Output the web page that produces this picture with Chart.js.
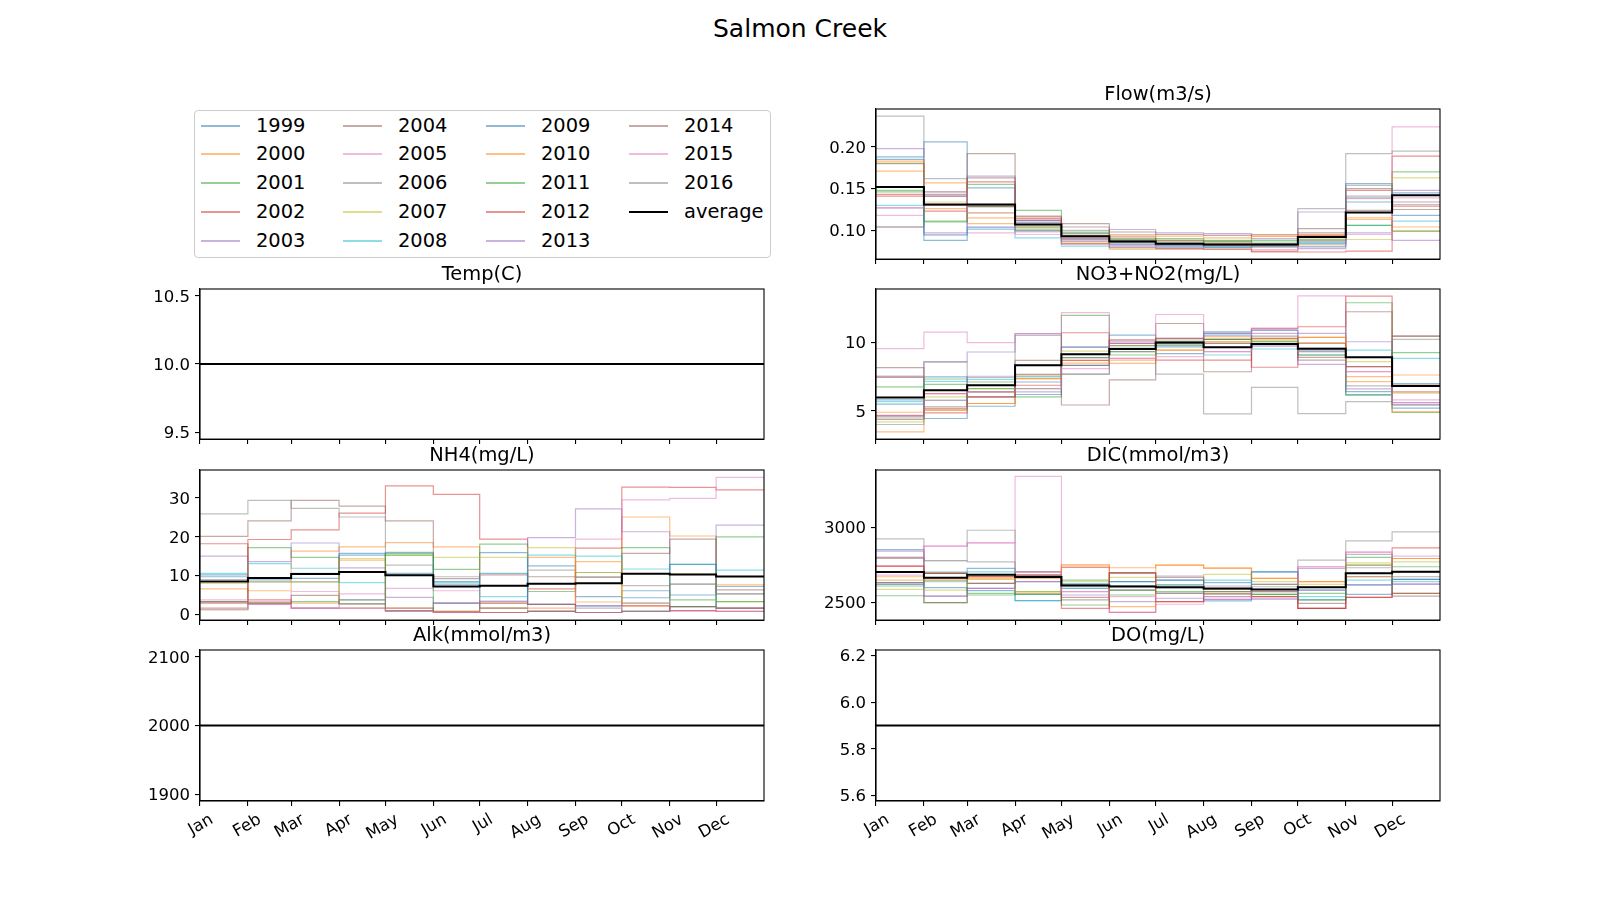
<!DOCTYPE html>
<html><head><meta charset="utf-8">
<script src="https://cdn.jsdelivr.net/npm/chart.js@4.4.1/dist/chart.umd.min.js"></script>
<style>
html,body{margin:0;padding:0;background:#fff;}
#wrap{position:relative;width:1600px;height:900px;overflow:hidden;font-family:"DejaVu Sans",sans-serif;color:#000;}
canvas{position:absolute;}
#suptitle{position:absolute;left:0;width:1600px;text-align:center;top:16px;font-size:25px;line-height:25px;white-space:nowrap;}
#legend{position:absolute;left:194px;top:110px;width:577px;height:148px;border:1px solid #cccccc;border-radius:4px;box-sizing:border-box;background:#fff;}
.lh{position:absolute;}
.lt{position:absolute;font-size:19.44px;line-height:24px;height:24px;white-space:nowrap;}
</style></head>
<body><div id="wrap"><div id="suptitle">Salmon Creek</div><div id="legend"></div></div>
<script>
// ---------------- DATA ----------------
const years = [1999,2000,2001,2002,2003,2004,2005,2006,2007,2008,2009,2010,2011,2012,2013,2014,2015,2016];
const monthLabels = ['Jan','Feb','Mar','Apr','May','Jun','Jul','Aug','Sep','Oct','Nov','Dec'];
const monthStartDays = [0,31,59,90,120,151,181,212,243,273,304,334];
const yearEndDay = 365;

// Flow(m3/s), one row per year, Jan..Dec
const flow = [
 [0.188,0.206,0.151,0.110,0.093,0.085,0.082,0.080,0.082,0.085,0.134,0.145],
 [0.171,0.126,0.108,0.104,0.094,0.091,0.088,0.086,0.093,0.095,0.115,0.099],
 [0.148,0.111,0.155,0.124,0.098,0.089,0.086,0.088,0.086,0.087,0.139,0.170],
 [0.143,0.123,0.158,0.116,0.090,0.087,0.083,0.082,0.075,0.094,0.148,0.189],
 [0.198,0.097,0.165,0.112,0.097,0.101,0.097,0.096,0.090,0.122,0.141,0.148],
 [0.104,0.143,0.192,0.117,0.108,0.093,0.088,0.086,0.084,0.102,0.124,0.125],
 [0.118,0.094,0.097,0.098,0.087,0.082,0.080,0.079,0.080,0.081,0.138,0.224],
 [0.237,0.162,0.129,0.105,0.100,0.090,0.086,0.084,0.083,0.126,0.192,0.195],
 [0.181,0.134,0.121,0.101,0.085,0.077,0.077,0.078,0.081,0.083,0.089,0.163],
 [0.130,0.095,0.101,0.091,0.081,0.080,0.079,0.080,0.082,0.084,0.106,0.111],
 [0.185,0.088,0.104,0.100,0.089,0.083,0.081,0.080,0.080,0.080,0.156,0.118],
 [0.183,0.157,0.115,0.107,0.092,0.095,0.093,0.091,0.093,0.091,0.113,0.104],
 [0.146,0.110,0.128,0.103,0.096,0.088,0.090,0.087,0.088,0.089,0.106,0.099],
 [0.141,0.130,0.129,0.114,0.084,0.079,0.078,0.077,0.074,0.074,0.075,0.129],
 [0.127,0.141,0.103,0.109,0.091,0.087,0.084,0.083,0.082,0.078,0.097,0.088],
 [0.180,0.141,0.163,0.112,0.104,0.098,0.095,0.094,0.095,0.097,0.150,0.134],
 [0.127,0.146,0.121,0.095,0.083,0.081,0.079,0.077,0.077,0.086,0.095,0.139],
 [0.104,0.146,0.129,0.099,0.087,0.085,0.083,0.082,0.081,0.088,0.154,0.131]
];
const flowAvg = [0.152,0.131,0.131,0.107,0.093,0.0865,0.084,0.083,0.083,0.092,0.1215,0.142];

// Temp(C): every year reads 10.0 in every month
const tempMonthly = [10,10,10,10,10,10,10,10,10,10,10,10];
const tempAvg = [10,10,10,10,10,10,10,10,10,10,10,10];

// NO3+NO2(mg/L)
const no3 = [
 [5.49,7.49,5.34,6.20,9.68,10.56,9.70,10.80,10.93,9.10,6.17,5.20],
 [3.46,5.05,5.54,7.37,8.70,8.49,9.46,10.44,10.32,10.39,7.51,7.63],
 [6.76,7.34,7.12,6.02,12.00,9.34,9.83,10.24,10.07,9.34,12.93,4.88],
 [7.50,4.85,6.02,7.56,10.73,9.95,8.73,8.73,11.05,11.17,13.41,6.90],
 [7.56,8.59,9.32,10.66,8.90,10.07,10.32,10.68,10.68,10.68,10.07,5.61],
 [8.17,5.29,6.40,8.70,5.43,7.27,11.41,7.87,10.49,8.93,12.27,10.49],
 [9.56,10.78,10.00,10.66,12.20,8.85,12.07,9.34,11.05,13.44,7.88,5.80],
 [7.45,8.59,7.44,10.54,7.70,10.20,7.70,4.78,6.73,4.80,5.68,10.24],
 [4.20,6.02,6.63,7.68,9.39,9.78,10.07,10.07,10.20,10.00,8.61,6.30],
 [5.68,7.17,7.30,7.49,9.15,9.59,9.95,9.10,9.54,9.59,9.46,8.85],
 [5.80,4.44,6.88,7.12,8.34,9.59,9.20,10.56,9.76,9.46,6.41,7.00],
 [4.90,5.05,5.54,7.37,8.50,8.73,9.46,10.07,10.20,10.39,7.15,4.95],
 [4.37,6.95,6.63,6.63,8.90,9.10,10.20,10.24,10.07,9.10,6.17,9.27],
 [4.68,6.27,6.02,6.88,8.70,10.20,10.32,9.95,8.20,9.95,8.24,6.40],
 [4.65,5.78,7.54,6.40,9.68,9.95,10.07,10.68,10.93,8.41,6.61,5.44],
 [4.56,5.17,6.40,8.34,8.34,9.78,9.95,10.24,10.32,8.73,8.24,10.49],
 [4.40,6.27,6.40,6.63,8.10,8.85,8.98,9.34,9.76,9.34,7.88,5.60],
 [4.00,5.78,6.02,7.68,7.70,9.34,9.83,9.95,9.90,9.59,6.83,5.44]
];
const no3Avg = [5.98,6.51,6.88,8.34,9.15,9.54,10.02,9.66,9.90,9.56,8.93,6.83];

// NH4(mg/L)
const nh4 = [
 [10.2,8.9,9.3,15.7,10.6,8.4,15.9,12.5,4.6,6.1,5.0,7.2],
 [6.6,6.1,16.3,17.4,18.5,17.4,2.9,14.7,3.2,25.1,20.2,7.6],
 [3.3,17.2,14.7,3.75,16.0,11.6,18.1,5.9,10.8,17.2,3.75,20.0],
 [1.6,19.3,21.8,26.1,33.1,30.9,19.4,6.6,17.1,32.8,32.7,32.1],
 [15.0,13.6,18.4,12.0,4.4,2.9,3.4,19.8,27.2,21.3,2.0,23.0],
 [20.1,24.1,29.4,27.9,24.1,9.2,10.2,9.7,9.6,15.7,19.4,6.3],
 [3.75,3.3,5.9,5.3,6.7,6.1,0.5,0.8,19.4,29.5,29.9,35.3],
 [25.9,29.4,27.3,25.1,12.7,9.7,1.6,11.4,9.6,7.4,7.8,5.3],
 [8.0,8.4,8.4,14.4,15.3,14.7,14.7,17.2,10.8,2.9,10.4,3.3],
 [10.6,13.1,11.9,8.2,10.1,8.4,4.6,15.3,15.0,11.7,12.9,11.4],
 [9.7,9.5,10.6,15.3,15.7,7.8,10.6,2.6,2.2,4.3,12.9,1.6],
 [2.9,2.9,2.9,14.0,1.6,0.8,1.6,1.6,13.6,2.2,1.0,0.8],
 [1.2,2.9,3.3,2.7,15.3,0.5,0.5,0.8,0.5,0.8,2.0,3.3],
 [18.2,3.75,1.6,1.6,1.0,0.5,0.5,0.8,0.5,2.2,1.0,1.6],
 [3.0,2.6,1.6,3.75,0.8,2.9,3.4,2.6,2.2,2.9,1.0,0.8],
 [3.3,2.9,4.9,2.7,1.6,0.8,2.9,2.6,0.5,0.8,2.0,1.6],
 [1.2,2.6,1.6,1.6,0.8,0.5,0.5,0.8,0.5,0.8,1.0,0.8],
 [9.0,8.4,8.4,10.8,1.0,2.9,1.6,0.8,1.6,0.8,7.8,5.3]
];
const nh4Avg = [8.5,9.4,10.4,10.9,10.1,7.2,7.4,7.9,8.0,10.5,10.3,9.8];

// DIC(mmol/m3)
const dic = [
 [2853,2702,2727,2511,2622,2638,2649,2631,2704,2582,2553,2653],
 [2671,2649,2653,2660,2753,2731,2749,2729,2660,2638,2671,2793],
 [2544,2498,2549,2571,2649,2549,2571,2556,2553,2560,2800,2738],
 [2742,2693,2671,2682,2733,2433,2504,2571,2538,2460,2533,2864],
 [2842,2542,2593,2638,2611,2609,2676,2609,2522,2727,2731,2622],
 [2793,2498,2627,2704,2516,2698,2616,2589,2620,2460,2693,2671],
 [2682,2876,2898,3342,2571,2433,2487,2520,2571,2738,2836,2809],
 [2924,2778,2982,2704,2593,2582,2560,2538,2604,2782,2911,2971],
 [2587,2582,2660,2571,2638,2667,2598,2687,2638,2620,2764,2771],
 [2620,2638,2704,2511,2593,2609,2616,2649,2587,2538,2649,2638],
 [2631,2598,2578,2553,2622,2638,2649,2509,2704,2516,2616,2653],
 [2649,2649,2671,2560,2744,2471,2749,2729,2660,2638,2749,2793],
 [2609,2693,2560,2553,2482,2582,2560,2571,2553,2516,2749,2560],
 [2742,2693,2671,2682,2460,2693,2504,2556,2538,2460,2533,2560],
 [2620,2542,2593,2638,2549,2504,2527,2520,2522,2582,2616,2622],
 [2631,2665,2627,2671,2533,2698,2667,2589,2571,2493,2671,2542],
 [2800,2876,2898,2704,2571,2538,2560,2538,2587,2738,2836,2700],
 [2800,2778,2771,2682,2611,2582,2598,2589,2620,2600,2820,2704]
];
const dicAvg = [2702,2665,2685,2670,2612,2605,2600,2592,2585,2600,2695,2705];

// Alk(mmol/m3): every year reads 2000
const alkMonthly = [2000,2000,2000,2000,2000,2000,2000,2000,2000,2000,2000,2000];
const alkAvg = [2000,2000,2000,2000,2000,2000,2000,2000,2000,2000,2000,2000];

// DO(mg/L): every year reads 5.9
const doMonthly = [5.9,5.9,5.9,5.9,5.9,5.9,5.9,5.9,5.9,5.9,5.9,5.9];
const doAvg = [5.9,5.9,5.9,5.9,5.9,5.9,5.9,5.9,5.9,5.9,5.9,5.9];

// tick labels
const flowTicks = [0.10,0.15,0.20];
const tempTicks = [9.5,10.0,10.5];
const no3Ticks = [5,10];
const nh4Ticks = [0,10,20,30];
const dicTicks = [2500,3000];
const alkTicks = [1900,2000,2100];
const doTicks = [5.6,5.8,6.0,6.2];

// ---------------- STYLE / LAYOUT ----------------
const FONT = '"DejaVu Sans", sans-serif';
const tab10 = ['#1f77b4','#ff7f0e','#2ca02c','#d62728','#9467bd','#8c564b','#e377c2','#7f7f7f','#bcbd22','#17becf'];
function rgba(hex, a){const n=parseInt(hex.slice(1),16);return `rgba(${(n>>16)&255},${(n>>8)&255},${n&255},${a})`;}
const YEAR_ALPHA = 0.5;
const AX_LEFT = [200, 876];
const AX_W = 564;
const AX_TOP = [109, 289, 470, 650];
const AX_H = 151;
const Y_AREA = 90, R_PAD = 90, T_AREA = 40;
const TICK_SIZE = 16.5;
const wrap = document.getElementById('wrap');

const framePlugin = {
  id: 'frame',
  afterDraw(chart) {
    const {ctx, chartArea: {left, top, right, bottom}} = chart;
    ctx.save();
    ctx.strokeStyle = '#000';
    ctx.lineWidth = 1.1;
    ctx.strokeRect(left, top, right - left, bottom - top);
    ctx.restore();
  }
};

function stepPoints(vals) {
  const pts = monthStartDays.map((d, i) => ({x: d, y: vals[i]}));
  pts.push({x: yearEndDay, y: vals[vals.length - 1]});
  return pts;
}

const panels = [
  {title:'Flow(m3/s)', byYear: flow, avg: flowAvg, col:1, row:0, min:0.0655, max:0.2455, ticks: flowTicks, dec:2},
  {title:'Temp(C)', byYear: years.map(() => tempMonthly), avg: tempAvg, col:0, row:1, min:9.45, max:10.55, ticks: tempTicks, dec:1},
  {title:'NO3+NO2(mg/L)', byYear: no3, avg: no3Avg, col:1, row:1, min:2.93, max:13.94, ticks: no3Ticks, dec:0},
  {title:'NH4(mg/L)', byYear: nh4, avg: nh4Avg, col:0, row:2, min:-1.46, max:37.2, ticks: nh4Ticks, dec:0},
  {title:'DIC(mmol/m3)', byYear: dic, avg: dicAvg, col:1, row:2, min:2381, max:3385, ticks: dicTicks, dec:0},
  {title:'Alk(mmol/m3)', byYear: years.map(() => alkMonthly), avg: alkAvg, col:0, row:3, min:1890, max:2110, ticks: alkTicks, dec:0},
  {title:'DO(mg/L)', byYear: years.map(() => doMonthly), avg: doAvg, col:1, row:3, min:5.5755, max:6.2245, ticks: doTicks, dec:1}
];

function makePanel(p) {
  const bottomRow = p.row === 3;
  const xH = bottomRow ? 90 : 14;
  const W = Y_AREA + AX_W + R_PAD, H = T_AREA + AX_H + xH;
  const c = document.createElement('canvas');
  c.width = W; c.height = H;
  c.style.left = (AX_LEFT[p.col] - Y_AREA) + 'px';
  c.style.top = (AX_TOP[p.row] - T_AREA) + 'px';
  c.style.width = W + 'px'; c.style.height = H + 'px';
  wrap.appendChild(c);

  const datasets = years.map((yr, i) => ({
    label: String(yr),
    data: stepPoints(p.byYear[i]),
    borderColor: rgba(tab10[i % 10], YEAR_ALPHA),
    borderWidth: 1.2,
    pointRadius: 0,
    stepped: true,
    fill: false,
    order: 100 - i
  }));
  datasets.push({label:'average', data: stepPoints(p.avg), borderColor:'#000', borderWidth:2, pointRadius:0, stepped:true, fill:false, order:0});

  const gridOpts = {display:true, drawOnChartArea:false, drawTicks:true, tickLength:5, color:'#000', lineWidth:1.1};
  const borderOpts = {display:true, color:'#000', width:1.1};

  new Chart(c, {
    type: 'line',
    data: {datasets},
    plugins: [framePlugin],
    options: {
      responsive: false, animation: false, devicePixelRatio: 1, events: [],
      layout: {padding: {left:0, right:R_PAD, top:0, bottom:0}},
      plugins: {
        legend: {display:false},
        tooltip: {enabled:false},
        title: {display:true, text:p.title, fullSize:false, color:'#000',
          font:{family:FONT, size:19.44, weight:'normal', lineHeight:1.2},
          padding:{top:14.37, bottom:2.3}}
      },
      scales: {
        x: {
          type:'linear', min:0, max:yearEndDay,
          afterBuildTicks: s => { s.ticks = monthStartDays.map(v => ({value:v})); },
          afterFit: s => { s.height = xH; },
          grid: gridOpts, border: borderOpts,
          ticks: {
            display: bottomRow, autoSkip:false, minRotation:30, maxRotation:30, padding:4,
            color:'#000', font:{family:FONT, size:TICK_SIZE},
            callback: (v, i) => monthLabels[i],
            labelOffset: 12
          }
        },
        y: {
          type:'linear', min:p.min, max:p.max,
          afterBuildTicks: s => { s.ticks = p.ticks.map(v => ({value:v})); },
          afterFit: s => { s.width = Y_AREA; },
          grid: gridOpts, border: borderOpts,
          ticks: {autoSkip:false, padding:5, labelOffset:1.5, color:'#000', font:{family:FONT, size:TICK_SIZE},
            callback: v => Number(v).toFixed(p.dec)}
        }
      }
    }
  });
}
panels.forEach(makePanel);

// ---------------- LEGEND (HTML) ----------------
const legend = document.getElementById('legend');
const legendEntries = years.map((y, i) => ({label:String(y), color: rgba(tab10[i % 10], YEAR_ALPHA), w:2}));
legendEntries.push({label:'average', color:'#000', w:2});
const LEG_BOX_L = 194, LEG_BOX_T = 110;
legendEntries.forEach((e, k) => {
  const col = Math.floor(k / 5), row = k % 5;
  const hx = Math.round(200.5 + col * 142.8 - LEG_BOX_L - 1);
  const yc = Math.round(125.5 + row * 28.9 - LEG_BOX_T - 1);
  const h = document.createElement('div');
  h.className = 'lh';
  h.style.left = hx + 'px'; h.style.top = (yc - 1) + 'px';
  h.style.width = '39px'; h.style.height = e.w + 'px'; h.style.background = e.color;
  legend.appendChild(h);
  const t = document.createElement('div');
  t.className = 'lt';
  t.style.left = (hx + 55) + 'px'; t.style.top = (yc - 12) + 'px';
  t.textContent = e.label;
  legend.appendChild(t);
});
</script>
</body></html>
